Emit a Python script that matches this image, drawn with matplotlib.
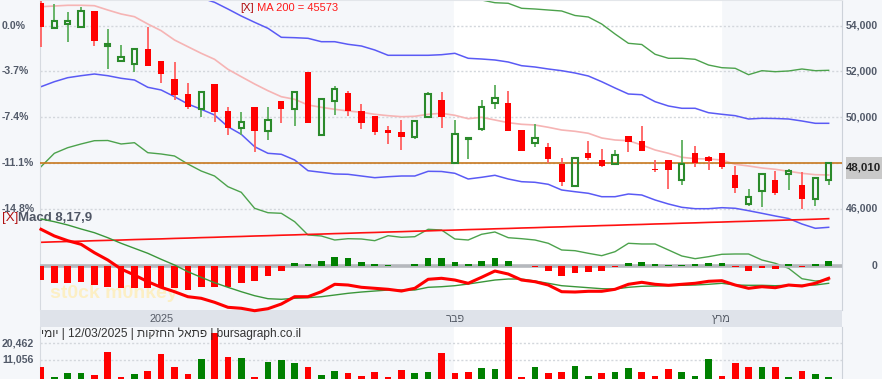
import numpy as np
import matplotlib
matplotlib.use("Agg")
import matplotlib.pyplot as plt
from matplotlib.patches import Rectangle
from matplotlib.transforms import blended_transform_factory

plt.rcParams['font.family'] = ['Liberation Sans', 'DejaVu Sans']

# 60 daily sessions, Dec 2024 - 12/03/2025
opens = [54991, 53899, 54074, 53930, 54642, 53126, 52471, 52340, 52982, 52458,
         51672, 51017, 50375, 51454, 50275, 49532, 50449, 49401, 50712, 50362,
         51978, 49227, 50724, 51061, 50275, 50057, 49445, 49358, 49139, 50013,
         50755, 48004, 49065, 49476, 50637, 50611, 49445, 48890, 48690, 47973,
         46999, 48427, 48135, 47960, 49183, 48965, 47742, 48135, 47274, 48441,
         48266, 48441, 47480, 46213, 46794, 47261, 47537, 47043, 46445, 47274]
highs = [55078, 54947, 54598, 54829, 54642, 53856, 53157, 52995, 53956, 52458,
         52415, 51510, 51118, 51454, 50462, 50218, 50449, 50436, 50712, 51161,
         51978, 50786, 51366, 51161, 50580, 50057, 49620, 49882, 49851, 51091,
         51091, 49882, 49109, 50755, 51410, 51148, 49445, 49707, 48877, 48209,
         48235, 48965, 48615, 48572, 49183, 49620, 48135, 48135, 49008, 48746,
         48310, 48441, 47873, 46882, 47537, 47668, 47742, 47611, 47336, 48010]
lows = [53070, 53899, 53301, 53886, 53126, 52109, 52471, 51991, 52253, 51510,
        50755, 50362, 50000, 49807, 49227, 49240, 48497, 49008, 49737, 49633,
        49764, 49227, 50100, 50070, 49502, 49227, 48833, 48585, 49039, 50013,
        49545, 48004, 48192, 49414, 50375, 49414, 48541, 48716, 47991, 46999,
        46999, 48135, 47816, 47960, 48497, 48528, 47624, 46882, 47043, 47816,
        47698, 47729, 46707, 46139, 46095, 46620, 46825, 46008, 46139, 47043]
closes = [53943, 54218, 54218, 54655, 53345, 53187, 52646, 52995, 52253, 51904,
          50973, 50436, 51118, 50244, 49545, 49794, 49401, 49895, 50375, 51091,
          49764, 50786, 51249, 50262, 49737, 49371, 49327, 49126, 49851, 51030,
          50000, 49284, 49109, 50463, 50856, 49414, 48541, 49109, 48192, 47187,
          48235, 48235, 47886, 48353, 48934, 48541, 47711, 47685, 47973, 47990,
          48104, 47842, 46925, 46532, 47537, 46707, 47655, 46445, 47336, 48010]
prev_close = 54500

volume = [7284, 1654, 3568, 3568, 2442, 15391, 1316, 3005, 4694, 14265,
          7284, 3005, 11450, 26426, 12914, 12351, 1654, 9761, 11056, 9198,
          7284, 2780, 5032, 3568, 2048, 4469, 1485, 5426, 3568, 4131,
          14828, 3568, 4469, 6721, 5820, 29466, 1654, 7284, 3906, 4469,
          7847, 2217, 3568, 4469, 6383, 4131, 2217, 6158, 4469, 2217,
          11450, 2217, 9198, 7284, 6946, 6946, 1654, 4694, 3005, 1654]

ma_mid = [54829, 54860, 54891, 54891, 54873, 54685, 54511, 54393, 54074, 53781,
          53375, 53083, 52794, 52532, 52096, 51773, 51454, 51161, 50899, 50786,
          50537, 50436, 50349, 50275, 50218, 50131, 50070, 50026, 50043, 50131,
          50174, 50087, 49938, 50000, 49882, 49764, 49694, 49663, 49563, 49445,
          49388, 49301, 49096, 49008, 48978, 48790, 48572, 48428, 48253, 48192,
          48179, 48135, 47947, 47873, 47786, 47729, 47641, 47554, 47493, 47480]
band_up1 = [57742, 57524, 57306, 57087, 56869, 56650, 56432, 56170, 55952, 55733,
            55559, 55384, 55209, 55022, 54729, 54423, 54148, 53886, 53493, 53476,
            53449, 53301, 53301, 53187, 53113, 52939, 52707, 52707, 52707, 52707,
            52733, 52794, 52576, 52545, 52502, 52414, 52253, 52196, 52109, 52035,
            51934, 51803, 51554, 51279, 51017, 50986, 50681, 50493, 50393, 50393,
            50200, 50131, 50070, 49925, 49956, 49947, 49925, 49838, 49737, 49737]
band_up2 = [59800, 59700, 59600, 59500, 59400, 59200, 59000, 58800, 58600, 58400,
            58200, 58000, 57800, 57600, 57400, 57200, 57000, 56800, 56600, 56500,
            56400, 56300, 56200, 56100, 56000, 55950, 55900, 55850, 55800, 55750,
            55700, 55500, 55300, 55122, 55004, 54978, 54760, 54729, 54685, 54642,
            54445, 54380, 54074, 53637, 53231, 53179, 52751, 52576, 52576, 52532,
            52283, 52166, 52139, 51860, 52035, 51991, 52022, 52109, 52035, 52052]
band_lo1 = [51336, 51554, 51729, 51816, 51890, 51816, 51703, 51628, 51310, 51192,
            50899, 50580, 50349, 50100, 49589, 49257, 48716, 48427, 48384, 48135,
            47668, 47598, 47524, 47510, 47436, 47362, 47405, 47436, 47436, 47641,
            47633, 47554, 47305, 47379, 47467, 47305, 47187, 47161, 47073, 46825,
            46750, 46681, 46532, 46532, 46650, 46606, 46388, 46213, 46069, 46008,
            46008, 46052, 46026, 45921, 45807, 45689, 45580, 45340, 45152, 45196]
band_lo2 = [47842, 48427, 48672, 48834, 48978, 48987, 48834, 48890, 48454, 48397,
            48310, 47960, 47654, 47436, 46969, 46724, 46025, 45833, 45807, 45441,
            44860, 44816, 44641, 44698, 44685, 44611, 44829, 44759, 44785, 45109,
            45078, 44685, 44641, 44890, 44991, 44742, 44698, 44641, 44497, 44205,
            44174, 44060, 43956, 44131, 44497, 44467, 44467, 44205, 43943, 43825,
            43912, 44017, 44030, 44030, 43768, 43624, 43405, 42951, 42851, 42894]
ma200 = [44540, 44560, 44575, 44590, 44610, 44625, 44640, 44660, 44675, 44690,
         44710, 44725, 44745, 44760, 44780, 44795, 44815, 44830, 44850, 44865,
         44885, 44900, 44920, 44935, 44955, 44970, 44990, 45005, 45025, 45040,
         45060, 45075, 45095, 45110, 45130, 45145, 45165, 45180, 45200, 45215,
         45235, 45250, 45270, 45285, 45305, 45320, 45340, 45355, 45375, 45390,
         45410, 45425, 45445, 45460, 45480, 45495, 45515, 45530, 45550, 45573]

macd = [910, 743, 625, 535, 325, 143, -83, -233, -400, -540,
        -650, -775, -815, -915, -1040, -1065, -1125, -1075, -958, -775,
        -775, -650, -465, -483, -540, -565, -590, -633, -565, -340,
        -315, -358, -440, -290, -133, -208, -358, -400, -483, -650,
        -658, -640, -640, -590, -465, -415, -465, -490, -465, -440,
        -390, -375, -483, -565, -525, -550, -483, -508, -440, -315]
signal = [1168, 1100, 1018, 918, 825, 700, 560, 435, 310, 160,
          18, -150, -290, -425, -540, -650, -750, -825, -840, -815,
          -800, -775, -733, -690, -658, -633, -608, -608, -608, -540,
          -525, -500, -458, -408, -358, -333, -333, -383, -440, -500,
          -525, -550, -575, -583, -540, -515, -508, -500, -490, -483,
          -465, -440, -483, -490, -490, -500, -490, -490, -483, -440]
hist = [-358, -425, -440, -415, -483, -540, -565, -565, -565, -540,
        -565, -608, -525, -540, -525, -440, -383, -258, -125, 60,
        35, 125, 225, 185, 100, 35, 10, 0, 35, 185,
        185, 85, 35, 125, 200, 125, 0, -33, -125, -258,
        -190, -150, -125, -40, 60, 85, 35, 10, 10, 35,
        60, 60, -40, -125, -50, -83, 35, -40, 35, 125]

price_ticks = [54000, 52000, 50000, 48000, 46000]
vol_ticks = [11056, 20462]
month_idx = [9, 31, 51]
month_names = ["2025", "פבר", "מרץ"]
footer_parts = ["bursagraph.co.il", "פתאל החזקות", "12/03/2025", "יומי"]


def rtl(s):
    # matplotlib has no bidi support: flip Hebrew runs by hand
    if any('\u0590' <= ch <= '\u05ff' for ch in s):
        return s[::-1]
    return s


GREY = '#f5f7fa'
LABEL = '#525a69'
W_PX, H_PX = 882, 379

x = np.arange(len(closes))
o, h, l, c = (np.array(v) for v in (opens, highs, lows, closes))
up = c >= o
xlim = (-0.075, 60.0)

fig = plt.figure(figsize=(W_PX / 100, H_PX / 100), dpi=100, facecolor=GREY)
L, W = 40 / W_PX, 802 / W_PX
ax = fig.add_axes([L, 69 / H_PX, W, 310 / H_PX])
band = fig.add_axes([L, 52 / H_PX, W, 17 / H_PX])
vax = fig.add_axes([L, 0, W, 52 / H_PX])

for a in (ax, vax):
    a.set_facecolor(GREY)
    a.axvspan(month_idx[1] - 0.07, month_idx[2] - 0.07, color='white', zorder=0)
    a.set_xlim(*xlim)
    a.set_xticks([])
    a.tick_params(length=0, labelleft=False, labelbottom=False)
    for side in ('top', 'bottom'):
        a.spines[side].set_visible(False)
    a.spines['left'].set_color('#d6dae0')
    a.spines['right'].set_color('#cdd2d9')
ax.spines['top'].set_visible(True)
ax.spines['top'].set_color('#e3e6ea')

# price panel
ax.set_ylim(41584, 55122)
ax.set_yticks(price_ticks)
ax.grid(axis='y', color='#d3d7dc', linestyle=(0, (1.5, 1.5)), lw=1, zorder=0)

ax.text(0.0125, 0.04, "st0ck m0nkey", transform=ax.transAxes, fontsize=14,
        fontweight='bold', color='#fcefc4', zorder=1)

ax.plot(x, band_up2, color='#4ca24c', lw=1, zorder=2)
ax.plot(x, band_lo2, color='#4ca24c', lw=1, zorder=2)
ax.plot(x, band_up1, color='#5a5af5', lw=1.1, zorder=2)
ax.plot(x, band_lo1, color='#5a5af5', lw=1.1, zorder=2)
ax.plot(x, ma_mid, color='#f6b4b4', lw=1.2, zorder=2)
ax.plot(x, ma200, color='#ff1010', lw=1.2, zorder=2)
ax.axhline(closes[-1], color='#c8781e', lw=1.2, zorder=3)

body_lo = np.minimum(o, c)
body_hi = np.maximum(o, c)
wick_col = np.where(up, '#5cae5c', '#ff6060')
ax.vlines(x, body_hi, h, colors=wick_col, lw=1.3, zorder=4)
ax.vlines(x, l, body_lo, colors=wick_col, lw=1.3, zorder=4)
ax.bar(x[~up], (o - c)[~up], bottom=c[~up], width=0.47, color='#ff0000',
       zorder=5)
ax.bar(x[up], (c - o)[up], bottom=o[up], width=0.4, facecolor='none',
       edgecolor='#2b8a2b', lw=1.5, zorder=5)

# macd overlay, zero line at 265.7 px from top
ax2 = ax.twinx()
ax2.set_ylim(-1107.5, 6642.5)
ax2.set_xlim(*xlim)
ax2.set_axis_off()
ax2.axhline(0, color='#b5b8bd', lw=2.6, zorder=1)
ax2.bar(x, hist, width=0.5, color=np.where(np.array(hist) >= 0, '#008000', '#ff0000'),
        zorder=2)
ax2.plot(x, signal, color='#3a963a', lw=1, zorder=3)
ax2.plot(x, macd, color='#ff0000', lw=2.2, zorder=4, clip_on=False)

# date band
band.set_facecolor('#dfe3ea')
band.set_xlim(*xlim)
band.set_xticks([])
band.set_yticks([])
for s in band.spines.values():
    s.set_visible(False)
for idx, name in zip(month_idx, month_names):
    band.text(idx, 0.45, rtl(name), transform=blended_transform_factory(band.transData, band.transAxes),
              ha='center', va='center', fontsize=7.8, color='#555b66')

# volume
vax.set_ylim(359, 29635)
vax.set_yticks(vol_ticks)
vax.grid(axis='y', color='#d3d7dc', linestyle=(0, (1.5, 1.5)), lw=1, zorder=0)
vol_up = np.diff(np.concatenate([[prev_close], c])) >= 0
vax.bar(x, volume, width=0.5, color=np.where(vol_up, '#008000', '#ff0000'), zorder=3)

footer = " | ".join(rtl(p) for p in reversed(footer_parts))
fig.text(41 / W_PX, 1 - 333.5 / H_PX, footer, ha='left', va='center',
         fontsize=8.6, color='#333333')

# axis labels
tr_price = blended_transform_factory(fig.transFigure, ax.transData)
for p in price_ticks:
    fig.text(878 / W_PX, p, f"{p:,}", transform=tr_price, ha='right', va='center',
             fontsize=7.6, fontweight='bold', color=LABEL)
    fig.text(2 / W_PX, p, f"{(p / price_ticks[0] - 1) * 100:.1f}%", transform=tr_price,
             ha='left', va='center', fontsize=7.6, fontweight='bold', color=LABEL)
fig.text(878 / W_PX, 0, "0", transform=blended_transform_factory(fig.transFigure, ax2.transData),
         ha='right', va='center', fontsize=7.6, fontweight='bold', color=LABEL)
tr_vol = blended_transform_factory(fig.transFigure, vax.transData)
for v in sorted(vol_ticks, reverse=True):
    fig.text(2 / W_PX, v, f"{v:,}", transform=tr_vol, ha='left', va='center',
             fontsize=7.6, fontweight='bold', color=LABEL)

# last-price tag sits over the 48,000 label, as in the source
fig.add_artist(Rectangle((846 / W_PX, 1 - 179 / H_PX), 40 / W_PX, 22 / H_PX,
                         transform=fig.transFigure, facecolor='#c9c9c9',
                         edgecolor='none', zorder=5))
fig.text(881 / W_PX, 1 - 168 / H_PX, f"{closes[-1]:,}", ha='right', va='center',
         fontsize=8.2, fontweight='bold', color='#222222', zorder=6)

# legends
t1 = ax.text(200 / 802, 1 - 8 / 310, "[X]", transform=ax.transAxes, ha='left',
             va='center', fontsize=8, color='#b01010', zorder=6)
ax.annotate(f" MA 200 = {ma200[-1]}", xy=(1, 0.5), xycoords=t1, va='center',
            fontsize=8, color='#ff1a1a', zorder=6)
t2 = fig.text(2 / W_PX, 1 - 218 / H_PX, "[X]", ha='left', va='center',
              fontsize=9.5, color='#b01010', zorder=6)
ax.annotate("Macd 8,17,9", xy=(1, 0.5), xycoords=t2, va='center', fontsize=9.5,
            fontweight='bold', color='#4f5665', annotation_clip=False, zorder=6)

fig.savefig("out.png", dpi=100, facecolor=fig.get_facecolor())
